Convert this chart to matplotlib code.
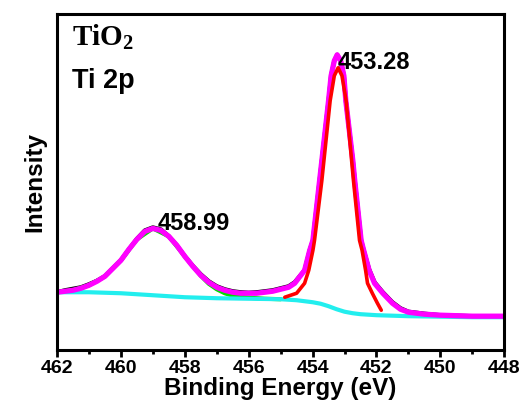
import numpy as np
import matplotlib.pyplot as plt

plt.rcParams['font.family'] = ['Liberation Sans', 'DejaVu Sans']
plt.rcParams['lines.solid_joinstyle'] = 'round'
plt.rcParams['lines.solid_capstyle'] = 'round'

# Ti 2p XPS spectrum of TiO2 (intensity in arbitrary units)
# envelope (fitted sum)
env_x = [462.0, 461.75, 461.5, 461.25, 461.0, 460.75, 460.5, 460.25, 460.0, 459.75,
         459.5, 459.25, 459.0, 458.75, 458.5, 458.25, 458.0, 457.75, 457.5, 457.25,
         457.0, 456.75, 456.5, 456.25, 456.0, 455.75, 455.5, 455.25, 455.0, 454.75,
         454.56, 454.25, 454.09, 453.99, 453.78, 453.71, 453.5, 453.42, 453.32, 453.23,
         453.12, 453.02, 452.96, 452.74, 452.68, 452.48, 452.4, 452.23, 452.06, 451.8,
         451.5, 451.25, 451.0, 450.5, 450.0, 449.5, 449.0, 448.5, 448.05]
env_y = [58, 59, 60, 62, 65, 69, 74, 82, 90, 101,
         111, 119, 122, 120, 114, 105, 94, 84, 75, 68,
         63, 60, 58, 57, 57, 57, 58, 59, 61, 63,
         67, 80, 100, 110, 170, 190, 250, 275, 290, 296,
         290, 275, 250, 190, 170, 110, 100, 80, 67, 57,
         47, 41, 38, 36, 35, 34.5, 34, 34, 34]

# raw data (mostly hidden beneath the envelope)
raw_x = env_x
raw_y = [58, 60, 61.5, 63, 66, 69.5, 74, 82, 90, 101,
         111.5, 120, 123, 121, 114, 105, 94, 84.5, 76, 69,
         64, 61, 59, 58, 57.5, 58, 59, 60, 62, 64,
         68, 80, 100, 110, 170, 190, 250, 275, 290, 296,
         290, 275, 250, 190, 170, 110, 100, 81, 68, 58,
         48, 42, 38.5, 36.5, 35, 34.5, 34, 34, 34]

# Ti 2p1/2 component (458.99) + background
p1_x = [462.0, 461.5, 461.0, 460.5, 460.0, 459.5, 459.0, 458.5, 458.0, 457.5,
        457.25, 457.0, 456.75, 456.5, 456.0, 455.5, 455.0]
p1_y = [58, 60, 65, 74, 90, 111, 122, 114, 94, 74.5,
        66.5, 61, 57, 54.5, 52.5, 51.5, 51]

# Ti 2p3/2 component (453.28) + background
p2_x = [454.87, 454.5, 454.25, 454.12, 453.99, 453.94, 453.71, 453.45, 453.32, 453.2,
        453.08, 452.95, 452.72, 452.53, 452.45, 452.34, 452.28, 452.13, 451.97, 451.85]
p2_y = [53, 57, 67, 80, 100, 110, 170, 250, 275, 283,
        275, 250, 170, 110, 100, 80, 67, 57, 47, 40]

# background (Shirley)
bg_x = [462.0, 461.0, 460.0, 459.0, 458.0, 457.0, 456.0, 455.0, 454.5, 454.0,
        453.75, 453.5, 453.25, 453.0, 452.75, 452.5, 452.0, 451.0, 450.0, 449.0, 448.0]
bg_y = [58, 58, 57, 55, 53, 52, 51.5, 51, 50, 48,
        46.5, 44, 41, 38.5, 37, 36, 35, 34, 33.5, 33, 33]

fig = plt.figure(figsize=(5.28, 4.09), dpi=100)
ax = fig.add_axes([0.108, 0.144, 0.847, 0.822])

ax.plot(raw_x, raw_y, color='black', lw=3.0)
ax.plot(p1_x, p1_y, color='#00dd00', lw=3.0)
ax.plot(bg_x, bg_y, color='#22eeee', lw=3.0)
ax.plot(env_x, env_y, color='#ff00ff', lw=3.8)
ax.plot(p2_x, p2_y, color='#ff0000', lw=2.6)

ax.set_xlim(462, 448)
ax.set_ylim(0, 337)
ax.set_xticks(np.arange(462, 447, -2))
ax.set_xticks(np.arange(461, 448, -2), minor=True)
ax.set_yticks([])
for lab in ax.get_xticklabels():
    lab.set_fontweight('bold')
ax.tick_params(axis='x', which='major', labelsize=14, length=5, width=2, pad=2)
ax.tick_params(axis='x', which='minor', length=3, width=2)
for s in ax.spines.values():
    s.set_linewidth(2.2)

ax.set_xlabel('Binding Energy (eV)', fontsize=17.5, fontweight='bold', labelpad=0)
ax.set_ylabel('Intensity', fontsize=17.5, fontweight='bold', labelpad=8)

ax.text(0.034, 0.93, r'TiO$_\mathregular{2}$', transform=ax.transAxes, fontsize=21,
        fontweight='bold', family='Liberation Serif', va='center')
ax.text(0.034, 0.80, 'Ti 2p', transform=ax.transAxes, fontsize=19.5,
        fontweight='bold', va='center')
ax.text(453.22, 288, '453.28', fontsize=17, fontweight='bold', va='center')
ax.text(458.84, 127, '458.99', fontsize=17, fontweight='bold', va='center')

fig.savefig('out.png', dpi=100)
